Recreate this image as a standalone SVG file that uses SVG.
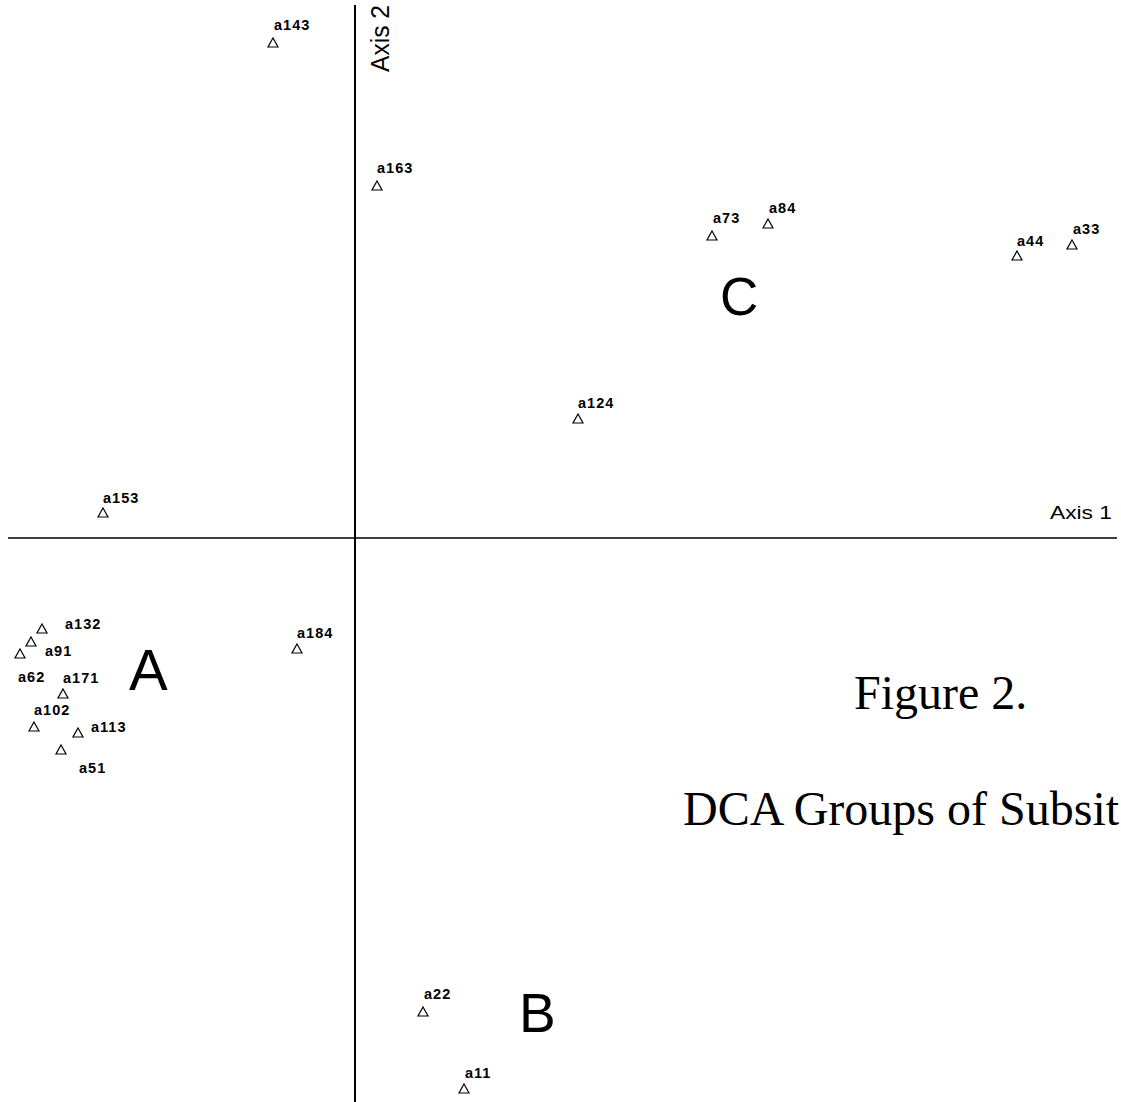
<svg xmlns="http://www.w3.org/2000/svg" xmlns:xlink="http://www.w3.org/1999/xlink" width="1121" height="1102" viewBox="0 0 1121 1102">
<style>
.lbl{font-family:"Liberation Sans",Arial,sans-serif;font-weight:bold;font-size:14.5px;letter-spacing:1px;fill:#000}
.axl{font-family:"Liberation Sans",Arial,sans-serif;fill:#000}
.hand{font-family:"Liberation Sans",Arial,sans-serif;fill:#000}
.cap{font-family:"Liberation Serif","Times New Roman",serif;font-size:48px;fill:#000}
.tri{fill:none;stroke:#000;stroke-width:1.2}
.axis{stroke:#000;fill:none}
</style>
<defs>
<path id="tri" class="tri" d="M0,-5 L5,4 L-5,4 Z"/>
</defs>
<rect width="1121" height="1102" fill="#fff"/>
<g id="connectors">
<line class="axis" x1="355" y1="5" x2="355" y2="1102" stroke-width="2"/>
<line class="axis" x1="8" y1="538" x2="1117" y2="538" stroke-width="1.6"/>
<text class="axl" x="1050" y="519" font-size="18" textLength="62" lengthAdjust="spacingAndGlyphs">Axis 1</text>
<text class="axl" transform="translate(389,72) rotate(-90)" font-size="25" textLength="67" lengthAdjust="spacingAndGlyphs">Axis 2</text>
</g>
<g id="a143"><use xlink:href="#tri" x="273" y="43"/><text class="lbl" x="274" y="30">a143</text></g>
<g id="a163"><use xlink:href="#tri" x="377" y="186"/><text class="lbl" x="377" y="173">a163</text></g>
<g id="a73"><use xlink:href="#tri" x="712" y="236"/><text class="lbl" x="713" y="223">a73</text></g>
<g id="a84"><use xlink:href="#tri" x="768" y="224"/><text class="lbl" x="769" y="213">a84</text></g>
<g id="a44"><use xlink:href="#tri" x="1017" y="256"/><text class="lbl" x="1017" y="246">a44</text></g>
<g id="a33"><use xlink:href="#tri" x="1072" y="245"/><text class="lbl" x="1073" y="234">a33</text></g>
<g id="a124"><use xlink:href="#tri" x="578" y="419"/><text class="lbl" x="578" y="408">a124</text></g>
<g id="a153"><use xlink:href="#tri" x="103" y="513"/><text class="lbl" x="103" y="503">a153</text></g>
<g id="a184"><use xlink:href="#tri" x="297" y="649"/><text class="lbl" x="297" y="638">a184</text></g>
<g id="a132"><use xlink:href="#tri" x="42" y="629"/><text class="lbl" x="65" y="629">a132</text></g>
<g id="a91"><use xlink:href="#tri" x="31" y="642"/><text class="lbl" x="45" y="656">a91</text></g>
<g id="a62"><use xlink:href="#tri" x="20" y="654"/><text class="lbl" x="18" y="682">a62</text></g>
<g id="a171"><use xlink:href="#tri" x="63" y="694"/><text class="lbl" x="63" y="683">a171</text></g>
<g id="a102"><use xlink:href="#tri" x="34" y="727"/><text class="lbl" x="34" y="715">a102</text></g>
<g id="a113"><use xlink:href="#tri" x="78" y="733"/><text class="lbl" x="91" y="732">a113</text></g>
<g id="a51"><use xlink:href="#tri" x="61" y="750"/><text class="lbl" x="79" y="773">a51</text></g>
<g id="a22"><use xlink:href="#tri" x="423" y="1012"/><text class="lbl" x="424" y="999">a22</text></g>
<g id="a11"><use xlink:href="#tri" x="464" y="1089"/><text class="lbl" x="465" y="1078">a11</text></g>
<g id="groups">
<text class="hand" x="129" y="690" font-size="58">A</text>
<text class="hand" x="519" y="1032" font-size="55">B</text>
<text class="hand" x="720" y="315" font-size="53">C</text>
</g>
<g id="caption">
<text class="cap" x="854" y="709" font-size="47">Figure 2.</text>
<text class="cap" x="683" y="825">DCA Groups of Subsit</text>
</g>
</svg>
